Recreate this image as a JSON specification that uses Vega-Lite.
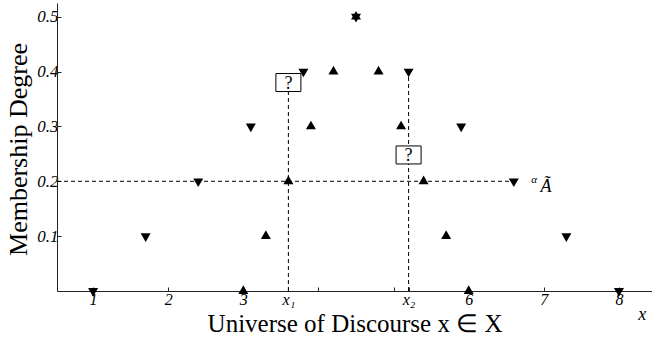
{
  "$schema": "https://vega.github.io/schema/vega-lite/v6.json",
  "width": 595,
  "height": 288,
  "autosize": {"type": "none"},
  "padding": {"left": 57, "top": 3, "right": 0, "bottom": 49},
  "background": "white",
  "config": {
    "view": {"stroke": null}
  },
  "datasets": {
    "pts": [
      {"x": 1, "y": 0, "s": "down"}, {"x": 1.7, "y": 0.1, "s": "down"}, {"x": 2.4, "y": 0.2, "s": "down"},
      {"x": 3.1, "y": 0.3, "s": "down"}, {"x": 3.8, "y": 0.4, "s": "down"}, {"x": 4.5, "y": 0.5, "s": "down"},
      {"x": 5.2, "y": 0.4, "s": "down"}, {"x": 5.9, "y": 0.3, "s": "down"}, {"x": 6.6, "y": 0.2, "s": "down"},
      {"x": 7.3, "y": 0.1, "s": "down"}, {"x": 8, "y": 0, "s": "down"},
      {"x": 3, "y": 0, "s": "up"}, {"x": 3.3, "y": 0.1, "s": "up"}, {"x": 3.6, "y": 0.2, "s": "up"},
      {"x": 3.9, "y": 0.3, "s": "up"}, {"x": 4.2, "y": 0.4, "s": "up"}, {"x": 4.5, "y": 0.5, "s": "up"},
      {"x": 4.8, "y": 0.4, "s": "up"}, {"x": 5.1, "y": 0.3, "s": "up"}, {"x": 5.4, "y": 0.2, "s": "up"},
      {"x": 5.7, "y": 0.1, "s": "up"}, {"x": 6, "y": 0, "s": "up"}
    ],
    "vrules": [{"x": 3.6, "y": 0, "y2": 0.38}, {"x": 5.2, "y": 0, "y2": 0.4}],
    "hrule": [{"x": 0.52, "x2": 6.6, "y": 0.2}],
    "boxes": [{"x": 3.6, "y": 0.38, "t": "?"}, {"x": 5.2, "y": 0.248, "t": "?"}],
    "alpha": [{"x": 6.87, "y": 0.203, "t": "α"}],
    "atilde": [{"x": 7.03, "y": 0.19, "t": "Ã"}],
    "xlab": [{"x": 8.31, "y": -0.044, "t": "x"}]
  },
  "encoding": {
    "x": {
      "field": "x", "type": "quantitative",
      "scale": {"domain": [0.52, 8.44], "nice": false, "zero": false},
      "axis": {
        "grid": false,
        "domainColor": "#222",
        "tickColor": "#222",
        "tickSize": -4,
        "labelFont": "Liberation Serif",
        "labelFontStyle": "italic",
        "labelFontSize": 16,
        "labelColor": "black",
        "labelBaseline": "top",
        "values": [1, 2, 3, 3.6, 4, 5, 5.2, 6, 7, 8],
        "labelExpr": "datum.value == 3.6 ? 'x₁' : datum.value == 5.2 ? 'x₂' : (datum.value == 4 || datum.value == 5) ? '' : datum.label",
        "labelPadding": 4,
        "title": "Universe of Discourse x ∈ X",
        "titleFont": "Liberation Serif",
        "titleFontWeight": "normal",
        "titleFontSize": 25,
        "titleColor": "black",
        "titleBaseline": "alphabetic",
        "titleY": 40
      }
    },
    "y": {
      "field": "y", "type": "quantitative",
      "scale": {"domain": [0, 0.525], "nice": false, "zero": false},
      "axis": {
        "grid": false,
        "domainColor": "#222",
        "tickColor": "#222",
        "tickSize": -4,
        "labelFont": "Liberation Serif",
        "labelFontStyle": "italic",
        "labelFontSize": 17,
        "labelColor": "black",
        "values": [0.1, 0.2, 0.3, 0.4, 0.5],
        "format": ".1f",
        "labelPadding": 3,
        "title": "Membership Degree",
        "titleFont": "Liberation Serif",
        "titleFontWeight": "normal",
        "titleFontSize": 26,
        "titleColor": "black",
        "titleAngle": -90,
        "titleBaseline": "alphabetic",
        "titleX": -31,
        "titleY": 146,
        "titleAlign": "center"
      }
    }
  },
  "layer": [
    {
      "data": {"name": "hrule"},
      "mark": {"type": "rule", "color": "black", "strokeWidth": 1, "strokeDash": [4, 3]},
      "encoding": {"x2": {"field": "x2"}}
    },
    {
      "data": {"name": "vrules"},
      "mark": {"type": "rule", "color": "black", "strokeWidth": 1, "strokeDash": [4, 3]},
      "encoding": {"y2": {"field": "y2"}}
    },
    {
      "data": {"name": "pts"},
      "mark": {"type": "point", "filled": true, "opacity": 1, "color": "black", "size": 100},
      "encoding": {
        "shape": {
          "field": "s", "type": "nominal",
          "scale": {"domain": ["up", "down"], "range": ["M0,-1.155L1,0.577L-1,0.577Z", "M0,1.155L1,-0.577L-1,-0.577Z"]},
          "legend": null
        }
      }
    },
    {
      "data": {"name": "boxes"},
      "mark": {
        "type": "point", "shape": "M-1.39,-1H1.39V1H-1.39Z", "size": 324,
        "filled": false, "fill": "white", "fillOpacity": 1, "stroke": "black", "strokeWidth": 1, "opacity": 1
      }
    },
    {
      "data": {"name": "boxes"},
      "mark": {"type": "text", "font": "Liberation Serif", "fontSize": 18, "color": "black", "baseline": "middle", "dy": 1},
      "encoding": {"text": {"field": "t"}}
    },
    {
      "data": {"name": "alpha"},
      "mark": {"type": "text", "font": "Liberation Serif", "fontStyle": "italic", "fontSize": 11, "color": "black", "baseline": "middle"},
      "encoding": {"text": {"field": "t"}}
    },
    {
      "data": {"name": "atilde"},
      "mark": {"type": "text", "font": "Liberation Serif", "fontStyle": "italic", "fontSize": 18, "color": "black", "baseline": "middle"},
      "encoding": {"text": {"field": "t"}}
    },
    {
      "data": {"name": "xlab"},
      "mark": {"type": "text", "font": "Liberation Serif", "fontStyle": "italic", "fontSize": 18, "color": "black", "baseline": "middle"},
      "encoding": {"text": {"field": "t"}}
    }
  ]
}
